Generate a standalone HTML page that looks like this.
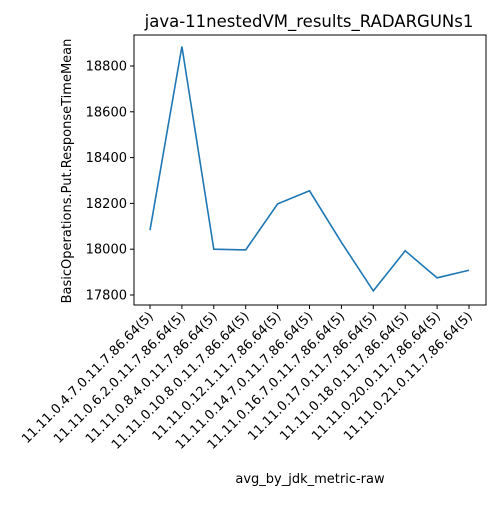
<!DOCTYPE html>
<html><head><meta charset="utf-8"><style>
html,body{margin:0;padding:0;background:#fff;}
svg text{font-family:"DejaVu Sans","Liberation Sans",sans-serif;fill:#000;}
</style></head><body>
<svg id="chart" width="500" height="500" xmlns="http://www.w3.org/2000/svg">
<rect width="500" height="500" fill="#fff"/>
<text x="309" y="27" font-size="16.5" text-anchor="middle">java-11nestedVM_results_RADARGUNs1</text>
<g id="plot"></g>
<text x="310" y="483" font-size="13" text-anchor="middle">avg_by_jdk_metric-raw</text>
<text transform="translate(71,171) rotate(-90)" font-size="13" text-anchor="middle">BasicOperations.Put.ResponseTimeMean</text>
</svg>
<script>
const categories = ["11.11.0.4.7.0.11.7.86.64(5)","11.11.0.6.2.0.11.7.86.64(5)","11.11.0.8.4.0.11.7.86.64(5)","11.11.0.10.8.0.11.7.86.64(5)","11.11.0.12.1.11.7.86.64(5)","11.11.0.14.7.0.11.7.86.64(5)","11.11.0.16.7.0.11.7.86.64(5)","11.11.0.17.0.11.7.86.64(5)","11.11.0.18.0.11.7.86.64(5)","11.11.0.20.0.11.7.86.64(5)","11.11.0.21.0.11.7.86.64(5)"];
const values = [18083,18885,18000,17997,18198,18255,18030,17818,17993,17875,17908];
const yTicks = [17800,18000,18200,18400,18600,18800];

const NS="http://www.w3.org/2000/svg";
const g=document.getElementById('plot');
const L=134,R=486,T=35,B=305;
const xS=i=>150+i*(469-150)/(categories.length-1);
const yS=v=>295-(v-17800)*(295-66)/1000;
function mk(tag,attrs,parent){const e=document.createElementNS(NS,tag);for(const k in attrs)e.setAttribute(k,attrs[k]);(parent||g).appendChild(e);return e;}
const frame=mk('rect',{x:L,y:T,width:R-L,height:B-T,fill:'none',stroke:'#000','stroke-width':1});


yTicks.forEach(t=>{
  const y=yS(t);
  const tk=mk('line',{x1:L-4,x2:L,y1:y,y2:y,stroke:'#000'});
  
  
  const tx=mk('text',{x:L-7,y:y+4.5,'font-size':13,'text-anchor':'end'});
  tx.textContent=t;
  
  
});
categories.forEach((c,i)=>{
  const x=xS(i);
  const tk=mk('line',{x1:x,x2:x,y1:B,y2:B+4,stroke:'#000'});
  
  
  const tx=mk('text',{x:0,y:0,'font-size':13,'text-anchor':'end',transform:`translate(${x+4},${B+12}) rotate(-45)`});
  tx.textContent=c;
  
  
});
const pl=mk('polyline',{points:values.map((v,i)=>xS(i)+','+yS(v)).join(' '),fill:'none',stroke:'#1f77b4','stroke-width':1.6});


</script>
</body></html>
